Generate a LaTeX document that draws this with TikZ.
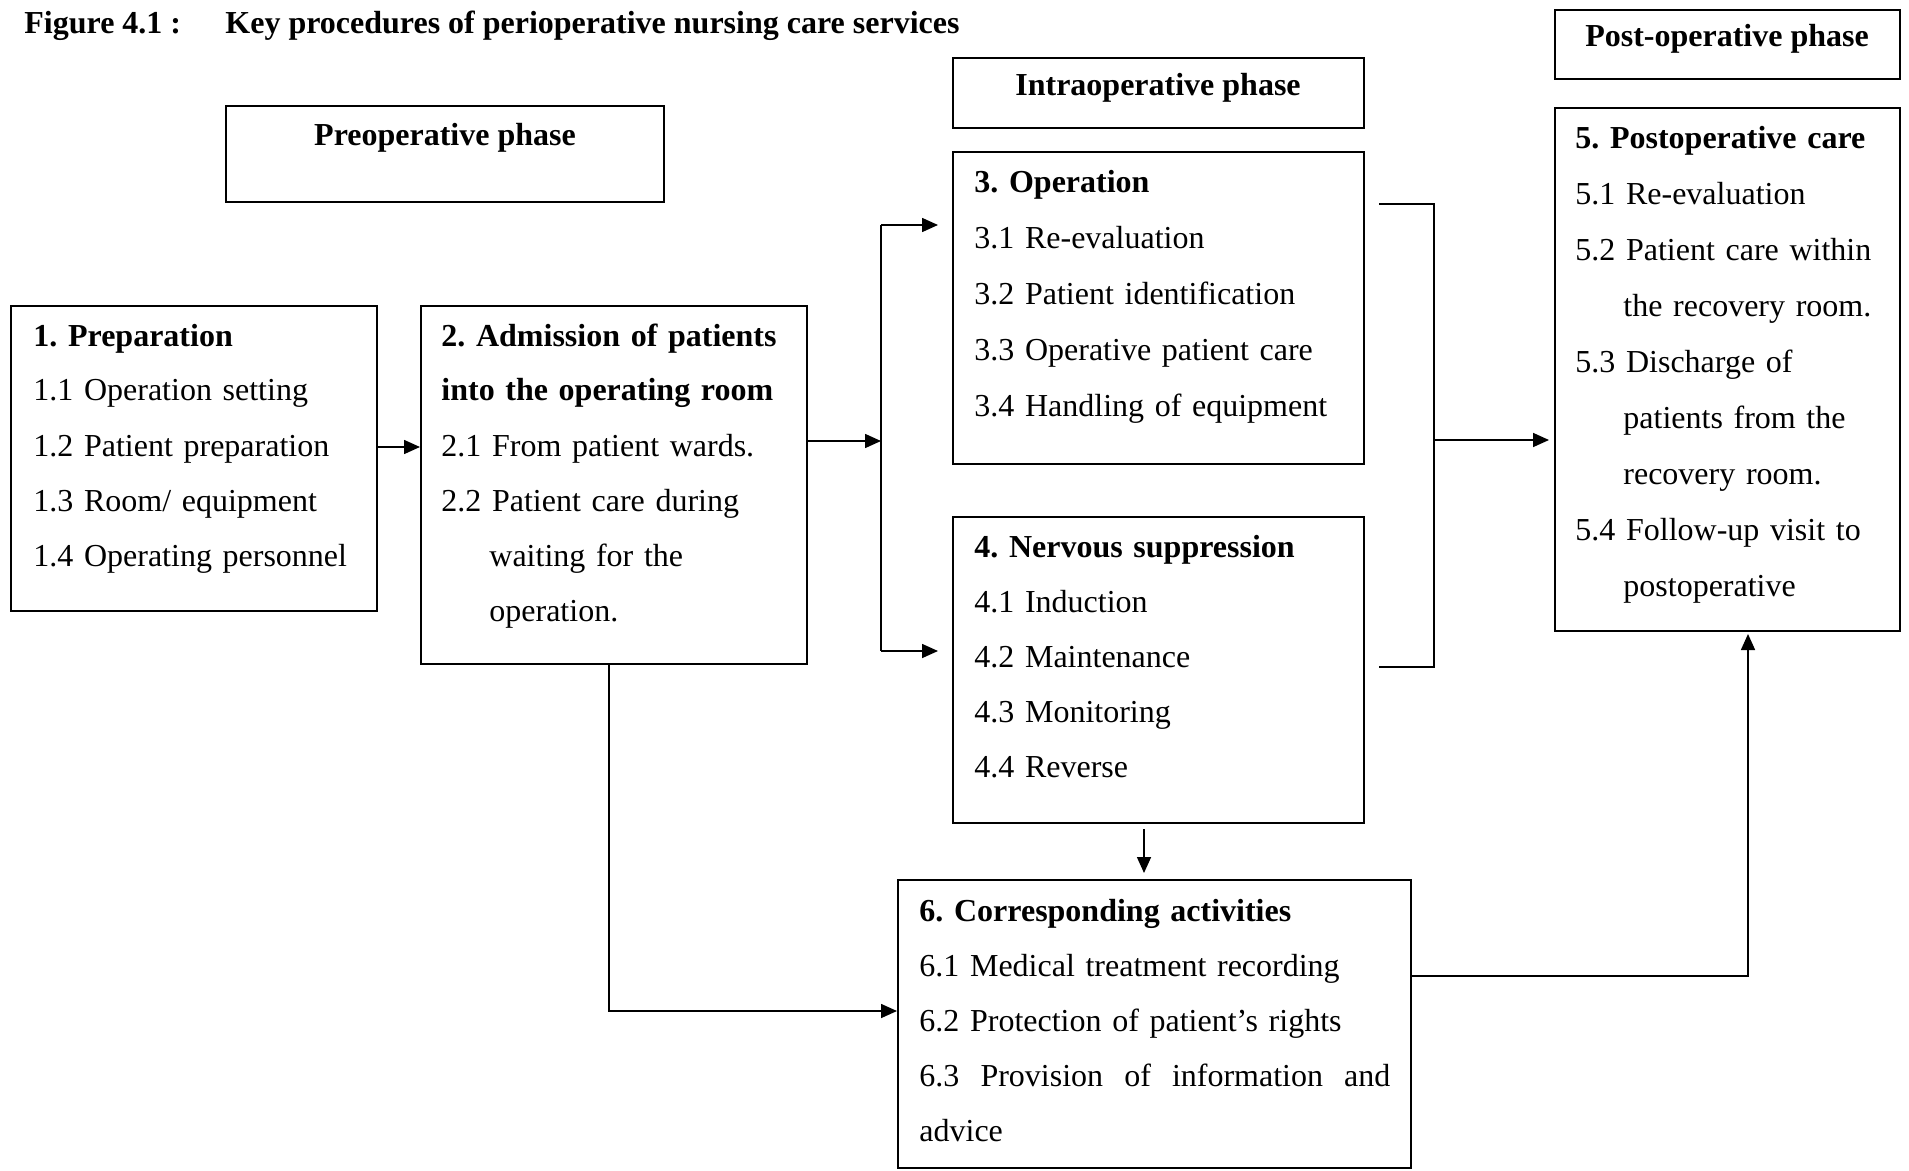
\documentclass[tikz,border=0pt]{standalone}
\usepackage{fontspec}
\setmainfont{Liberation Serif}
\usetikzlibrary{arrows.meta,fit}
\frenchspacing
\tikzset{
  box/.style={draw, line width=1pt, inner sep=0pt},
  txt/.style={anchor=base west, inner sep=0pt, text width=420pt, align=left,
              font=\fontsize{16pt}{27.5pt}\selectfont\frenchspacing},
  txtw/.style={txt, font=\fontsize{16pt}{28pt}\selectfont\frenchspacing},
  lbl/.style={anchor=base, inner sep=0pt, font=\fontsize{16pt}{19pt}\selectfont\bfseries},
  ttl/.style={anchor=base west, inner sep=0pt, font=\fontsize{16pt}{19pt}\selectfont\bfseries\frenchspacing},
  conn/.style={line width=0.8pt},
  arr/.style={conn, -{Triangle[length=8pt,width=7pt]}},
}
\newcommand{\ind}{\hspace*{24pt}}
\begin{document}
\begin{tikzpicture}[x=0.5pt,y=-0.5pt]
\useasboundingbox[fill=white] (0,0) rectangle (1909,1171);

% title
\node[ttl] (fig) at (24,34) {Figure 4.1 :};
\node[ttl] (title) at (225,34) {Key procedures of perioperative nursing care services};

% phase boxes
\node[box, fit={(226,106) (664,202)}] (pre) {};
\node[box, fit={(953,58) (1364,128)}] (intra) {};
\node[box, fit={(1555,10) (1900,79)}] (post) {};
\node[lbl] (pret) at (445,146) {Preoperative phase};
\node[lbl] (intrat) at (1158,96) {Intraoperative phase};
\node[lbl] (postt) at (1727,47) {Post-operative phase};

% main boxes
\node[box, fit={(11,306) (377,611)}] (b1) {};
\node[box, fit={(421,306) (807,664)}] (b2) {};
\node[box, fit={(953,152) (1364,464)}] (b3) {};
\node[box, fit={(953,517) (1364,823)}] (b4) {};
\node[box, fit={(1555,108) (1900,631)}] (b5) {};
\node[box, fit={(898,880) (1411,1168)}] (b6) {};

% texts
\node[txt] (t1) at (33,346) {\textbf{1. Preparation}\\
1.1 Operation setting\\
1.2 Patient preparation\\
1.3 Room/ equipment\\
1.4 Operating personnel};

\node[txt] (t2) at (441,346) {\textbf{2. Admission of patients}\\
\textbf{into the operating room}\\
2.1 From patient wards.\\
2.2 Patient care during\\
\ind waiting for the\\
\ind operation.};

\node[txtw] (t3) at (974,193) {\textbf{3. Operation}\\
3.1 Re-evaluation\\
3.2 Patient identification\\
3.3 Operative patient care\\
3.4 Handling of equipment};

\node[txt] (t4) at (974,557) {\textbf{4. Nervous suppression}\\
4.1 Induction\\
4.2 Maintenance\\
4.3 Monitoring\\
4.4 Reverse};

\node[txtw] (t5) at (1575,149) {\textbf{5. Postoperative care}\\
5.1 Re-evaluation\\
5.2 Patient care within\\
\ind the recovery room.\\
5.3 Discharge of\\
\ind patients from the\\
\ind recovery room.\\
5.4 Follow-up visit to\\
\ind postoperative};

\node[txt] (t6) at (919,921) {\textbf{6. Corresponding activities}\\
6.1 Medical treatment recording\\
6.2 Protection of patient's rights\\
\makebox[235.5pt][l]{6.3\hfill Provision\hfill of\hfill information\hfill and}\\
advice};

% connectors
\coordinate (r12) at (0,447);
\draw[arr] (b1.east |- r12) -- (b2.west |- r12);

\coordinate (bus) at (881,441);
\coordinate (busT) at (881,225);
\coordinate (busB) at (881,651);
\draw[arr] (b2.east |- bus) -- (bus);
\draw[conn] (busT) -- (busB);
\draw[arr] (busT) -- ([xshift=-7pt]b3.west |- busT);
\draw[arr] (busB) -- ([xshift=-7pt]b4.west |- busB);

\coordinate (rbT) at (1434,204);
\coordinate (rbB) at (1434,667);
\coordinate (rbM) at (1434,440);
\draw[conn] ([xshift=7pt]b3.east |- rbT) -- (rbT) -- (rbB) -- ([xshift=7pt]b4.east |- rbB);
\draw[arr] (rbM) -- ([xshift=-2.5pt]b5.west |- rbM);

\coordinate (c46) at (1144,0);
\draw[arr] ([yshift=-2.5pt]b4.south -| c46) -- ([yshift=3pt]b6.north -| c46);

\coordinate (c26) at (609,1011);
\draw[arr] (b2.south -| c26) -- (c26) -- (b6.west |- c26);

\coordinate (c65) at (1748,976);
\draw[arr] (b6.east |- c65) -- (c65) -- ([yshift=-1pt]b5.south -| c65);
\end{tikzpicture}
\end{document}
